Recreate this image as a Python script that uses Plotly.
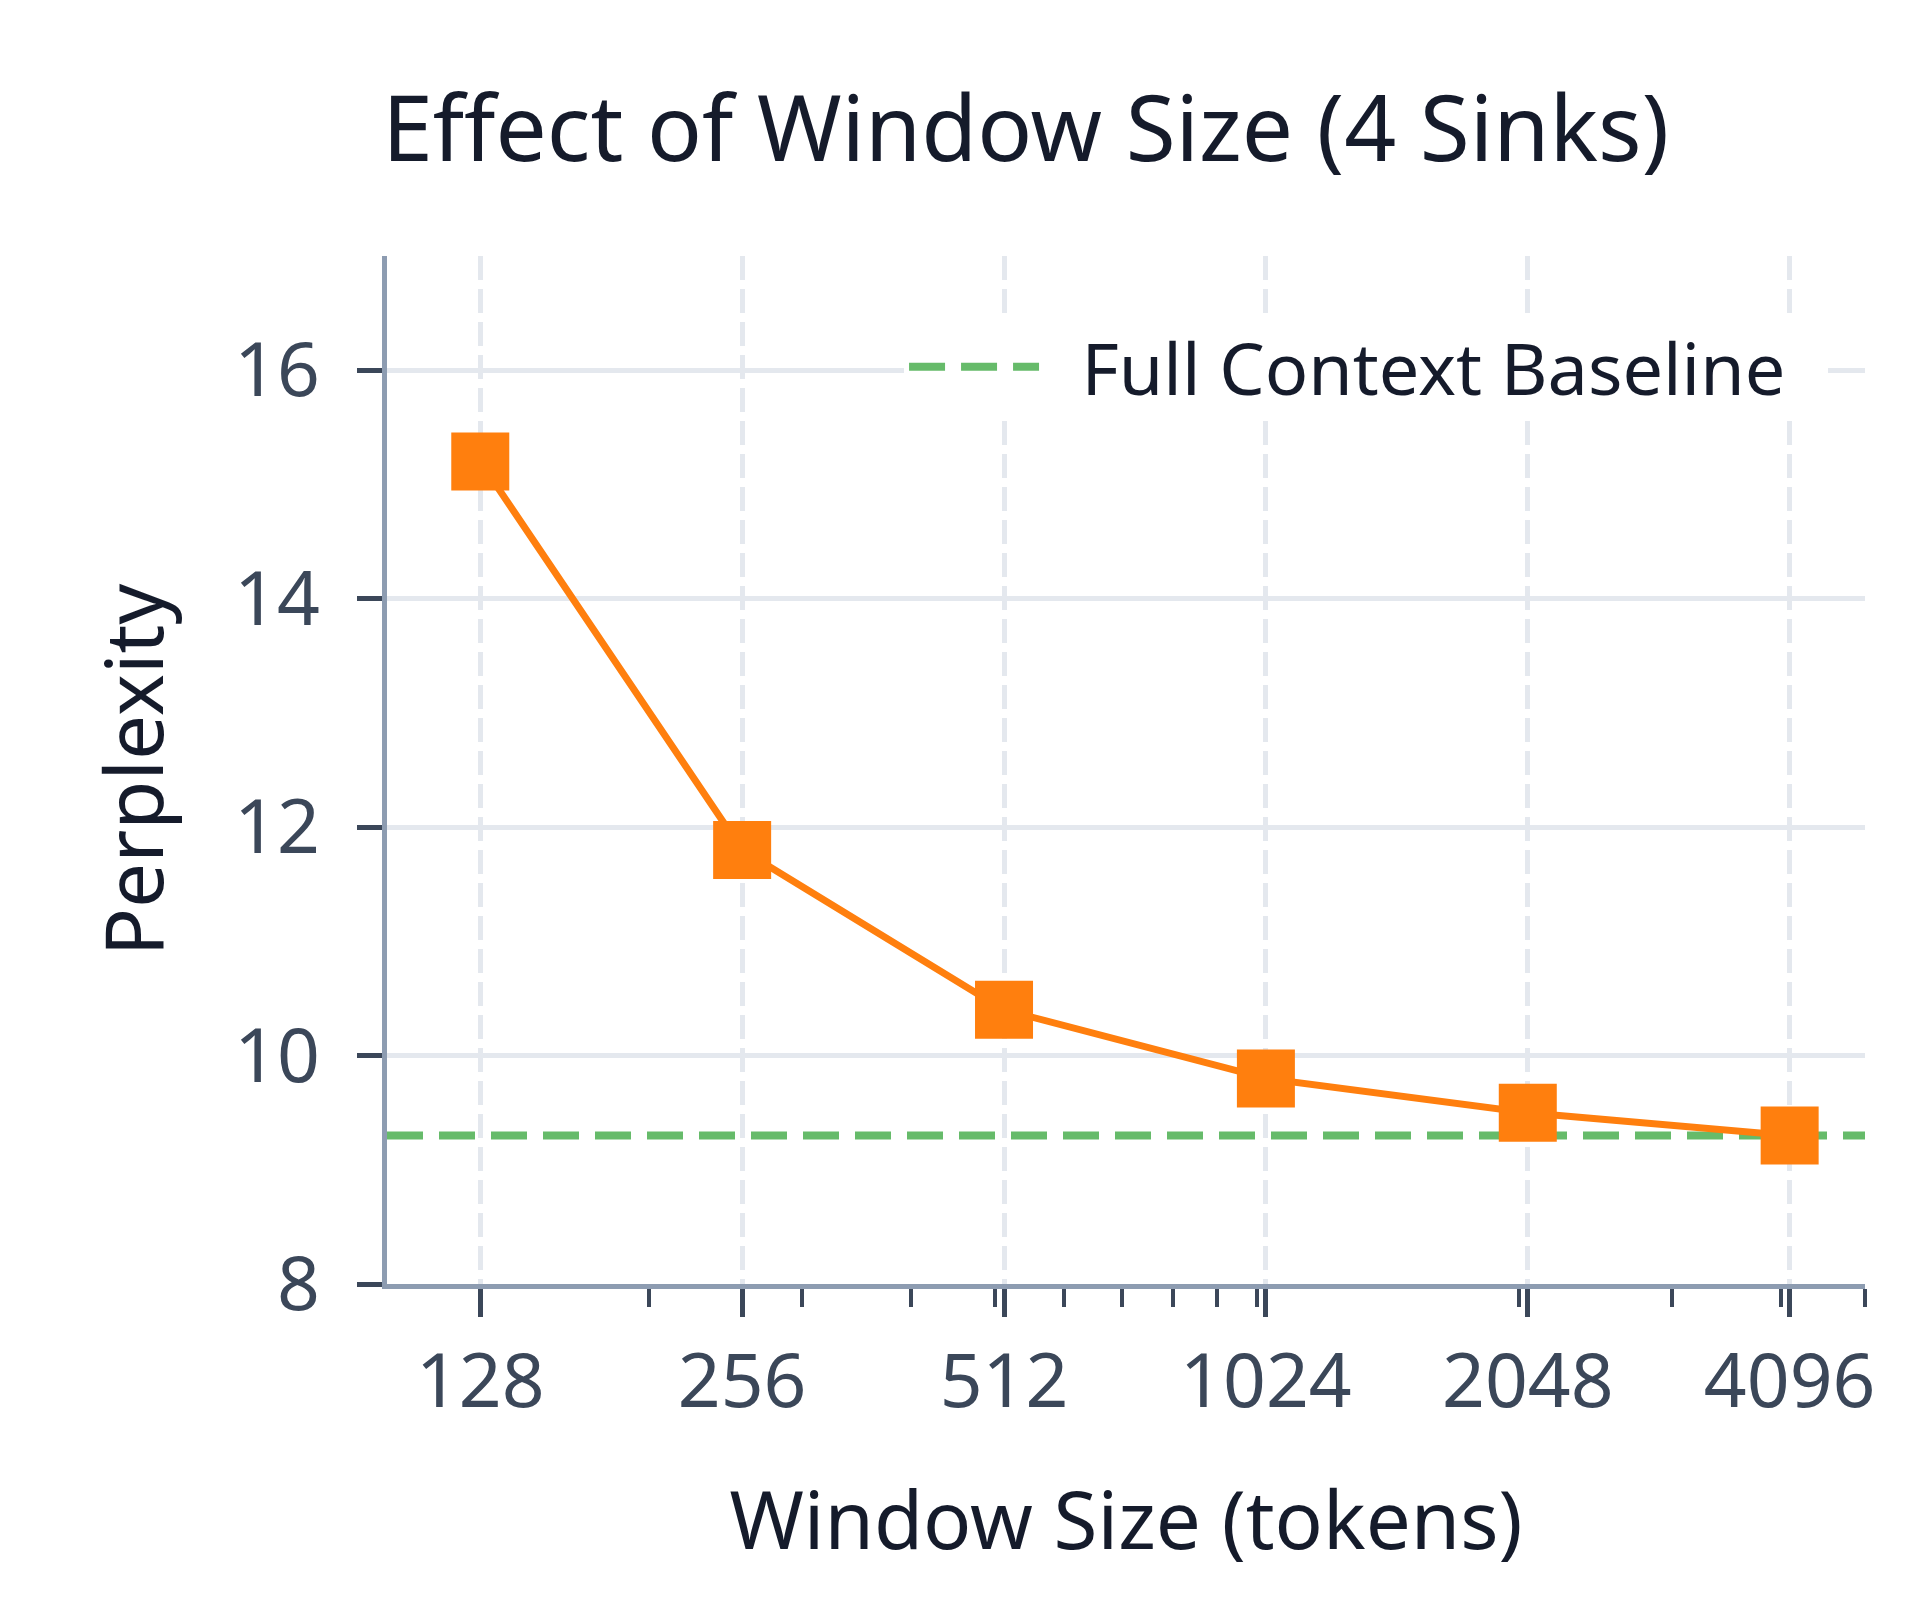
import plotly.graph_objects as go

# window sizes (tokens) and perplexity with 4 attention sinks
window_sizes = [128, 256, 512, 1024, 2048, 4096]
perplexity = [15.2, 11.8, 10.4, 9.8, 9.5, 9.3]
baseline_ppl = 9.3
tick_labels = ["128", "256", "512", "1024", "2048", "4096"]
minor_ticks = [200, 300, 400, 500, 600, 700, 800, 900, 1000, 2000, 3000, 4000, 5000]
x_range = [100, 5000]
y_ticks = [8, 10, 12, 14, 16]

FONT = "Noto Sans"
DARK = "#151b2b"
SLATE = "#3b4759"
AXIS = "#8d9cb1"
GRID = "#e4e8ee"
NB = "\u00a0"

fig = go.Figure()

fig.add_trace(go.Scatter(
    x=x_range, y=[baseline_ppl, baseline_ppl],
    mode="lines", name=NB * 2 + "Full Context Baseline" + NB * 2,
    line=dict(color="#66bb6a", width=8, dash="36px,16px"),
    cliponaxis=False,
))

fig.add_trace(go.Scatter(
    x=window_sizes, y=perplexity,
    mode="lines+markers", name="4 Sinks", showlegend=False,
    line=dict(color="#ff7f0e", width=7),
    marker=dict(symbol="square", size=58, color="#ff7f0e"),
    cliponaxis=False,
))

fig.update_layout(
    width=1920, height=1600,
    paper_bgcolor="white", plot_bgcolor="white",
    margin=dict(l=379, r=63, t=248, b=324),
    font=dict(family=FONT, color=DARK),
    title=dict(text="Effect of Window Size (4 Sinks)", x=0.530, xanchor="center",
               y=0.924, yanchor="middle", font=dict(size=91, color=DARK)),
    legend=dict(x=0.975, xanchor="right", y=0.892, yanchor="middle",
                bgcolor="white", borderwidth=0, itemwidth=130,
                font=dict(size=72, color=DARK)),
    xaxis=dict(
        type="log", range=[2, 3.69897],
        tickmode="array", tickvals=window_sizes, ticktext=tick_labels,
        tickfont=dict(size=75, color=SLATE),
        ticks="outside", ticklen=28, tickwidth=5, tickcolor=SLATE,
        showline=True, linecolor=AXIS, linewidth=5,
        showgrid=True, gridcolor=GRID, gridwidth=5, griddash="24px,9px",
        zeroline=False,
        minor=dict(tickmode="array", tickvals=minor_ticks, ticks="outside",
                   ticklen=18, tickwidth=4, tickcolor=SLATE, showgrid=False),
        title=dict(text="Window Size (tokens)", font=dict(size=80, color=DARK), standoff=66),
    ),
    yaxis=dict(
        range=[8, 17], tickmode="array", tickvals=y_ticks,
        tickfont=dict(size=75, color=SLATE),
        ticks="outside", ticklen=25, tickwidth=5, tickcolor=SLATE,
        ticklabelstandoff=22,
        showline=True, linecolor=AXIS, linewidth=5,
        showgrid=True, gridcolor=GRID, gridwidth=5,
        zeroline=False,
        title=dict(text="Perplexity", font=dict(size=80, color=DARK), standoff=46),
    ),
)

fig.write_html("out.html")
